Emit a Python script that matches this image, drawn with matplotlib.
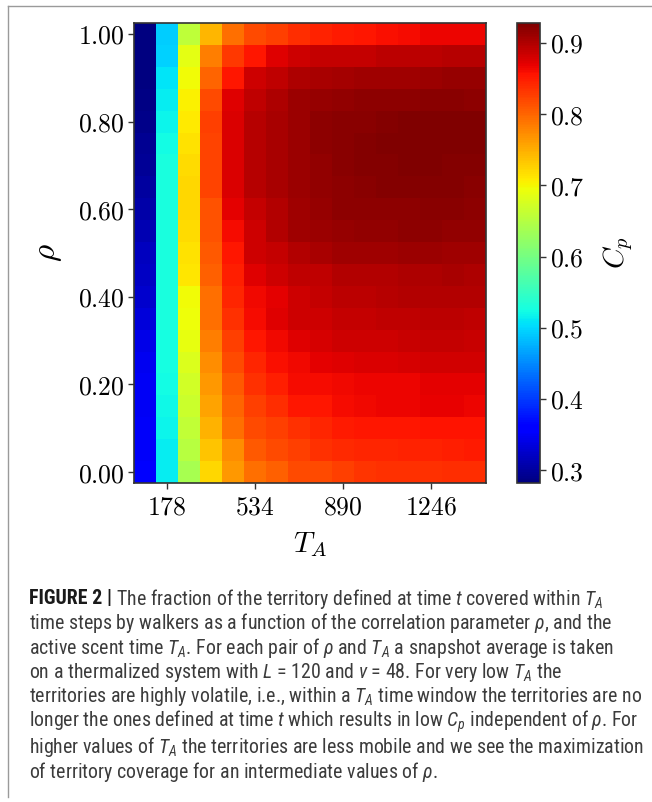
import matplotlib
matplotlib.use("Agg")
import matplotlib.pyplot as plt
from matplotlib import font_manager
from matplotlib.lines import Line2D
from matplotlib.ticker import FuncFormatter

# active scent time T_A (columns) and correlation parameter rho (rows, top to bottom)
t_a = [89, 178, 267, 356, 445, 534, 623, 712, 801, 890, 979, 1068, 1157, 1246, 1335, 1424]
rho = [1.00, 0.95, 0.90, 0.85, 0.80, 0.75, 0.70, 0.65, 0.60, 0.55, 0.50,
       0.45, 0.40, 0.35, 0.30, 0.25, 0.20, 0.15, 0.10, 0.05, 0.00]

# territory coverage C_p, one row per rho value (same order as rho)
cp = [
    [0.282, 0.492, 0.656, 0.744, 0.792, 0.818, 0.826, 0.839, 0.846, 0.850, 0.853, 0.858, 0.862, 0.866, 0.866, 0.866],
    [0.283, 0.495, 0.688, 0.783, 0.832, 0.853, 0.874, 0.885, 0.889, 0.889, 0.890, 0.893, 0.895, 0.895, 0.896, 0.896],
    [0.284, 0.508, 0.696, 0.800, 0.853, 0.885, 0.892, 0.902, 0.905, 0.907, 0.908, 0.908, 0.909, 0.912, 0.913, 0.913],
    [0.285, 0.514, 0.704, 0.818, 0.874, 0.892, 0.902, 0.911, 0.914, 0.917, 0.918, 0.920, 0.920, 0.921, 0.921, 0.920],
    [0.289, 0.518, 0.710, 0.826, 0.876, 0.897, 0.904, 0.911, 0.918, 0.921, 0.922, 0.924, 0.926, 0.927, 0.927, 0.926],
    [0.294, 0.524, 0.716, 0.823, 0.876, 0.897, 0.904, 0.912, 0.918, 0.922, 0.923, 0.926, 0.927, 0.928, 0.927, 0.926],
    [0.297, 0.527, 0.720, 0.823, 0.876, 0.897, 0.904, 0.912, 0.917, 0.921, 0.923, 0.925, 0.926, 0.926, 0.925, 0.925],
    [0.300, 0.528, 0.722, 0.823, 0.876, 0.897, 0.904, 0.911, 0.916, 0.920, 0.921, 0.923, 0.923, 0.924, 0.924, 0.922],
    [0.306, 0.529, 0.722, 0.814, 0.871, 0.888, 0.900, 0.910, 0.915, 0.918, 0.918, 0.920, 0.920, 0.921, 0.921, 0.920],
    [0.312, 0.529, 0.720, 0.812, 0.861, 0.885, 0.900, 0.908, 0.912, 0.915, 0.916, 0.917, 0.918, 0.918, 0.917, 0.916],
    [0.318, 0.529, 0.715, 0.809, 0.853, 0.883, 0.888, 0.900, 0.905, 0.908, 0.909, 0.910, 0.911, 0.911, 0.910, 0.909],
    [0.322, 0.528, 0.712, 0.804, 0.849, 0.874, 0.883, 0.892, 0.892, 0.898, 0.900, 0.900, 0.902, 0.902, 0.903, 0.902],
    [0.326, 0.528, 0.698, 0.792, 0.844, 0.864, 0.871, 0.885, 0.888, 0.894, 0.895, 0.896, 0.899, 0.900, 0.900, 0.900],
    [0.334, 0.527, 0.694, 0.792, 0.835, 0.861, 0.874, 0.883, 0.885, 0.889, 0.890, 0.891, 0.892, 0.894, 0.893, 0.892],
    [0.342, 0.526, 0.690, 0.783, 0.826, 0.853, 0.864, 0.874, 0.878, 0.884, 0.885, 0.885, 0.886, 0.888, 0.888, 0.887],
    [0.346, 0.525, 0.680, 0.774, 0.818, 0.844, 0.858, 0.864, 0.871, 0.875, 0.876, 0.877, 0.878, 0.881, 0.882, 0.881],
    [0.348, 0.524, 0.672, 0.765, 0.809, 0.835, 0.849, 0.861, 0.861, 0.864, 0.865, 0.866, 0.867, 0.871, 0.871, 0.870],
    [0.350, 0.521, 0.666, 0.757, 0.800, 0.826, 0.839, 0.853, 0.853, 0.861, 0.864, 0.865, 0.866, 0.868, 0.868, 0.867],
    [0.351, 0.517, 0.660, 0.748, 0.792, 0.818, 0.826, 0.835, 0.844, 0.852, 0.853, 0.853, 0.854, 0.855, 0.855, 0.856],
    [0.352, 0.514, 0.652, 0.734, 0.774, 0.809, 0.818, 0.826, 0.835, 0.842, 0.844, 0.844, 0.845, 0.846, 0.848, 0.851],
    [0.353, 0.512, 0.640, 0.722, 0.765, 0.792, 0.804, 0.818, 0.818, 0.826, 0.833, 0.835, 0.835, 0.836, 0.838, 0.838],
]

x_ticks = [178, 534, 890, 1246]
y_ticks = [0.0, 0.2, 0.4, 0.6, 0.8, 1.0]
cbar_ticks = [0.3, 0.4, 0.5, 0.6, 0.7, 0.8, 0.9]

caption_bold = "FIGURE 2 |"
caption_lines = [
    r" The fraction of the territory defined at time $t$ covered within $T_A$",
    r"time steps by walkers as a function of the correlation parameter $\rho$, and the",
    r"active scent time $T_A$. For each pair of $\rho$ and $T_A$ a snapshot average is taken",
    r"on a thermalized system with $L$ = 120 and $\nu$ = 48. For very low $T_A$ the",
    r"territories are highly volatile, i.e., within a $T_A$ time window the territories are no",
    r"longer the ones defined at time $t$ which results in low $C_p$ independent of $\rho$. For",
    r"higher values of $T_A$ the territories are less mobile and we see the maximization",
    r"of territory coverage for an intermediate values of $\rho$.",
]

W, H = 652, 802
plt.rcParams['mathtext.fontset'] = 'cm'

# pick a narrow sans face for the caption if one is installed
fonts = font_manager.fontManager.ttflist
names = {f.name for f in fonts}
cap_font, cap_stretch = 'Liberation Sans', 'normal'
for cand in ['Liberation Sans Narrow', 'Roboto Condensed', 'Open Sans Condensed']:
    if cand in names:
        cap_font = cand
        break
else:
    cond = [f for f in fonts if f.name in ('Noto Sans', 'Open Sans', 'Roboto')
            and str(f.stretch) in ('condensed', 'semi-condensed') and f.style == 'normal']
    if cond:
        cap_font, cap_stretch = cond[0].name, str(cond[0].stretch)

plt.rcParams['mathtext.rm'] = cap_font
plt.rcParams['mathtext.it'] = cap_font + ':italic'
plt.rcParams['mathtext.bf'] = cap_font + ':bold'
plt.rcParams['mathtext.sf'] = cap_font


def fx(x):
    return x / W


def fy(y):
    return 1 - y / H


fig = plt.figure(figsize=(W / 100, H / 100), dpi=100)
edge = '#333333'

# heatmap
ax = fig.add_axes([fx(134), fy(483), fx(486) - fx(134), fy(23) - fy(483)])
mesh = ax.pcolormesh(t_a, rho, cp, cmap='jet', shading='nearest')
ax.set_xticks(x_ticks)
ax.set_yticks(y_ticks)
ax.xaxis.set_major_formatter(FuncFormatter(lambda v, p: r'$%d$' % v))
ax.yaxis.set_major_formatter(FuncFormatter(lambda v, p: r'$%.2f$' % v))
ax.tick_params(labelsize=18.5, length=4.5, width=1.0, color=edge, pad=2.5)
ax.tick_params(axis='x', pad=4)
for s in ax.spines.values():
    s.set_color(edge)
    s.set_linewidth(1.2)

ax.set_xlabel(r'$T_A$', fontsize=21)
ax.xaxis.set_label_coords(0.5, (483 - 545) / 460)
ax.xaxis.label.set_va('center')
ax.set_ylabel(r'$\rho$', fontsize=24)
ax.yaxis.set_label_coords((48 - 134) / 352, 0.5)
ax.yaxis.label.set_va('center')

# colorbar
cax = fig.add_axes([fx(517), fy(483), fx(540) - fx(517), fy(23) - fy(483)])
cb = fig.colorbar(mesh, cax=cax, ticks=cbar_ticks)
cb.ax.yaxis.set_major_formatter(FuncFormatter(lambda v, p: r'$%.1f$' % v))
cb.ax.tick_params(labelsize=18.5, length=4.5, width=1.0, color=edge, pad=3)
cb.outline.set_edgecolor(edge)
cb.outline.set_linewidth(1.2)
cb.set_label(r'$C_p$', fontsize=21)
cb.ax.yaxis.set_label_coords((618 - 517) / 23, 0.5)
cb.ax.yaxis.label.set_va('center')

# caption: size chosen so the widest lines end where they end in the figure
renderer = fig.canvas.get_renderer()
line_y = [599, 623, 648, 672, 697, 722, 747, 772]
line_end = {4: 640, 5: 647, 6: 644}
scale = 1e9
for i, end in line_end.items():
    probe = fig.text(0, 0, caption_lines[i], fontsize=12, family=cap_font, stretch=cap_stretch,
                     math_fontfamily='custom')
    scale = min(scale, (end - 29) / probe.get_window_extent(renderer).width)
    probe.remove()
cap_size = 12 * scale

bold = fig.text(fx(29), fy(line_y[0]), caption_bold, fontsize=cap_size, family=cap_font,
                stretch=cap_stretch, weight='bold', color='#1a1a1a', va='center', ha='left')
bold_w = bold.get_window_extent(renderer).width
for i, line in enumerate(caption_lines):
    x0 = 29 + (bold_w if i == 0 else 0)
    fig.text(fx(x0), fy(line_y[i]), line, fontsize=cap_size, family=cap_font, stretch=cap_stretch,
             math_fontfamily='custom', color='#3c3c3c', va='center', ha='left')

# frame around the figure panel
fig.add_artist(Line2D([fx(8), fx(8)], [fy(6), fy(797)], color='#9a9a9a', lw=1.0, transform=fig.transFigure))
fig.add_artist(Line2D([fx(8), 1.0], [fy(6), fy(6)], color='#9a9a9a', lw=1.0, transform=fig.transFigure))

fig.savefig('out.png', dpi=100)
